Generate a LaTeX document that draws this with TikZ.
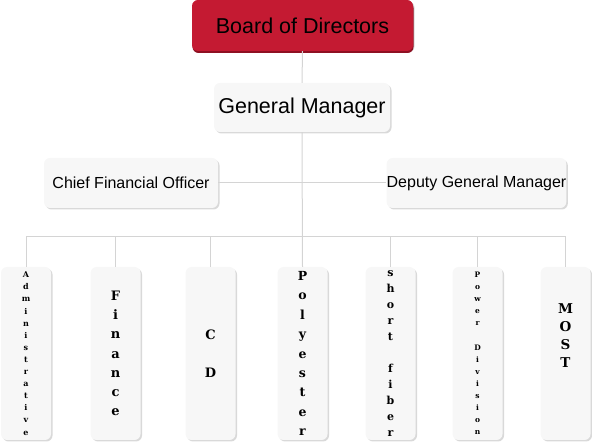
\documentclass[tikz,border=0pt]{standalone}
\usepackage{fontspec}
\setmainfont{Liberation Sans}
\newfontfamily\slabfont{DejaVu Serif}
\usetikzlibrary{shadows}

\definecolor{boardred}{HTML}{C41A32}
\definecolor{boardshade}{HTML}{8E1022}
\definecolor{boxgray}{HTML}{F7F7F7}
\definecolor{shadegray}{HTML}{D9D9D9}
\definecolor{linegray}{HTML}{D4D4D4}

\begin{document}
\begin{tikzpicture}[
		x=1pt, y=-1pt,
		cargo/.style={
			rectangle,
			rounded corners=6pt,
			fill=boxgray,
			inner sep=0pt,
			align=center,
			drop shadow={shadow xshift=1.5pt, shadow yshift=-1.5pt,
				fill=shadegray, opacity=1}
		},
		junta/.style={
			cargo,
			fill=boardred,
			drop shadow={shadow xshift=0.5pt, shadow yshift=-2pt,
				fill=boardshade, opacity=1},
			minimum width=221pt,
			minimum height=51pt,
			font=\fontsize{21.5}{26}\selectfont
		},
		jefe/.style={
			cargo,
			minimum height=49pt,
			font=\fontsize{21.5}{26}\selectfont
		},
		adjunto/.style={
			cargo,
			minimum height=50pt,
			font=\fontsize{16}{19}\selectfont
		},
		depto/.style={
			cargo,
			minimum width=50pt,
			minimum height=173pt
		},
		letras/.style 2 args={
			font=\slabfont\bfseries\fontsize{#1}{#2}\selectfont
		},
		linea/.style={
			draw=linegray,
			line width=1pt
		}
		]
		
		\useasboundingbox (0,0) rectangle (592,443);
		
		% Direction
		\node[junta] (board) at (302.5,25.5) {Board of Directors};
		
		\node[jefe, minimum width=176pt] (gm) at (302,107.5) {General Manager};
		
		\node[adjunto, minimum width=174pt] (cfo) at (131,183)
		{Chief Financial Officer};
		
		\node[adjunto, minimum width=177pt] (dgm) at (476.5,183)
		{Deputy General Manager};
		
		% Departments
		\node[depto, letras={8}{12.1}] (d1) at (26,353.5)
		{A\\d\\m\\i\\n\\i\\s\\t\\r\\a\\t\\i\\v\\e};
		
		\node[depto, letras={13}{19.2}] (d2) at (115.5,353.5)
		{F\\i\\n\\a\\n\\c\\e};
		
		\node[depto, letras={13}{19}] (d3) at (210.5,353.5)
		{C\\~\\D};
		
		\node[depto, letras={12.5}{19.4}] (d4) at (302.5,353.5)
		{P\\o\\l\\y\\e\\s\\t\\e\\r};
		
		\node[depto, letras={11}{16}] (d5) at (390.5,353.5)
		{s\\h\\o\\r\\t\\~\\f\\i\\b\\e\\r};
		
		\node[depto, letras={7.5}{12.1}] (d6) at (477.5,353.5)
		{P\\o\\w\\e\\r\\~\\D\\i\\v\\i\\s\\i\\o\\n};
		
		\node[depto, letras={13.5}{18}] (d7) at (565.5,353.5)
		{M\\O\\S\\T\\~\\~};
		
		% Connectors
		\coordinate (bus) at (302.5,237);
		
		\draw[linea] (board.south) -- (gm.north);
		\draw[linea] (gm.south) -- (d4.north);
		\draw[linea] (cfo.east) -- (dgm.west);
		\draw[linea] (d1.north |- bus) -- (d7.north |- bus);
		\foreach \d in {d1,d2,d3,d5,d6,d7}
		\draw[linea] (\d.north) -- (\d.north |- bus);
		
	\end{tikzpicture}
\end{document}
